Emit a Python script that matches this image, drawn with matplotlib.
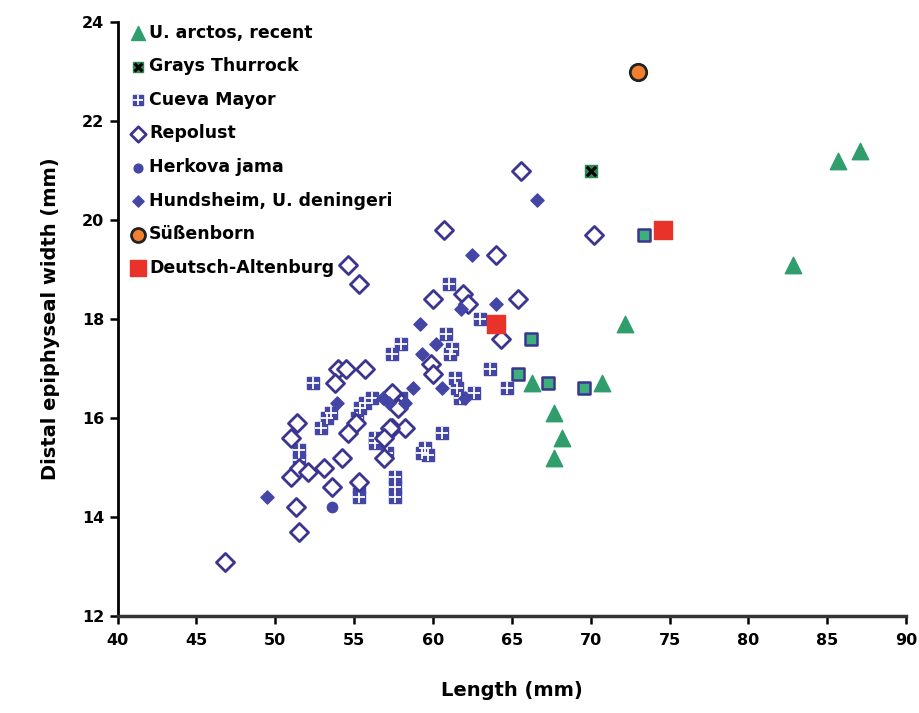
import numpy as np
import matplotlib.pyplot as plt

plt.rcParams['font.family'] = ['DejaVu Sans']
plt.rcParams['font.weight'] = 'bold'

# U. arctos, recent
arctos_x = [87.1, 85.7, 82.8, 72.2, 70.7, 66.3, 67.7, 68.2, 67.7]
arctos_y = [21.4, 21.2, 19.1, 17.9, 16.7, 16.7, 16.1, 15.6, 15.2]

# green-filled squares (unlabelled)
green_sq_x = [66.2, 65.4, 67.3, 69.6, 73.4]
green_sq_y = [17.6, 16.9, 16.7, 16.6, 19.7]

grays_x = [70.0]
grays_y = [21.0]

cueva_x = [61.0, 63.0, 60.8, 58.0, 57.4, 61.1, 61.2, 63.6, 61.4, 61.5, 64.7, 62.6,
           60.6, 59.7, 59.3, 57.1, 56.3, 56.3, 56.1, 55.4, 55.2, 55.7, 52.4, 53.5,
           53.3, 52.9, 51.5, 51.5, 55.3, 55.3, 57.6, 57.6, 57.6, 58.0, 61.7, 59.5]
cueva_y = [18.7, 18.0, 17.7, 17.5, 17.3, 17.3, 17.4, 17.0, 16.8, 16.6, 16.6, 16.5,
           15.7, 15.25, 15.3, 15.3, 15.6, 15.5, 16.4, 16.2, 16.0, 16.3, 16.7, 16.1,
           16.0, 15.8, 15.35, 15.15, 14.4, 14.6, 14.8, 14.4, 14.6, 16.4, 16.4, 15.4]

repolust_x = [46.8, 51.5, 51.3, 51.0, 51.5, 52.1, 51.0, 51.4, 53.1, 53.6, 54.2,
              55.3, 56.9, 54.6, 55.3, 60.7, 64.0, 60.0, 61.9, 62.2, 65.4, 64.3,
              65.6, 70.2, 55.7, 59.9, 60.0, 57.4, 58.0, 57.4, 58.2, 54.0, 54.5,
              53.8, 57.8, 57.3, 55.1, 54.6, 56.9]
repolust_y = [13.1, 13.7, 14.2, 14.8, 15.0, 14.9, 15.6, 15.9, 15.0, 14.6, 15.2,
              14.7, 15.2, 19.1, 18.7, 19.8, 19.3, 18.4, 18.5, 18.3, 18.4, 17.6,
              21.0, 19.7, 17.0, 17.1, 16.9, 16.5, 16.3, 15.8, 15.8, 17.0, 17.0,
              16.7, 16.2, 15.8, 15.9, 15.7, 15.6]

herkova_x = [53.6]
herkova_y = [14.2]

hund_x = [49.5, 53.9, 56.8, 57.2, 58.7, 59.3, 59.2, 60.2, 60.6, 62.0, 61.8, 64.0,
          62.5, 66.6, 58.2]
hund_y = [14.4, 16.3, 16.4, 16.3, 16.6, 17.3, 17.9, 17.5, 16.6, 16.4, 18.2, 18.3,
          19.3, 20.4, 16.3]

sussen_x = [73.0]
sussen_y = [23.0]

deutsch_x = [74.6, 64.0]
deutsch_y = [19.8, 17.9]

navy = '#3b3591'
blue = '#4446a6'
green = '#2f9e6c'

fig, ax = plt.subplots(figsize=(9.19, 7.13), dpi=100)
fig.subplots_adjust(left=0.128, right=0.986, top=0.969, bottom=0.136)

h_arctos = ax.scatter(arctos_x, arctos_y, marker='^', s=140, color=green, zorder=3)
h_grays = ax.scatter(grays_x, grays_y, marker='s', s=80, color='#2e8a52', zorder=3)
h_grays_x = ax.scatter(grays_x, grays_y, marker='x', s=45, color='black',
                       linewidths=2.2, zorder=4)
h_cueva = ax.scatter(cueva_x, cueva_y, marker='s', s=78, color=blue, zorder=2)
h_cueva_x = ax.scatter(cueva_x, cueva_y, marker='+', s=78, color='white',
                       linewidths=1.3, zorder=2)
h_rep = ax.scatter(repolust_x, repolust_y, marker='D', s=85, facecolors='white',
                   edgecolors=navy, linewidths=2, zorder=3)
h_herk = ax.scatter(herkova_x, herkova_y, marker='o', s=55, color=blue, zorder=3)
h_hund = ax.scatter(hund_x, hund_y, marker='D', s=45, color=blue, zorder=3)
h_suss = ax.scatter(sussen_x, sussen_y, marker='o', s=140, color='#f08030',
                    edgecolors='#222222', linewidths=2, zorder=3)
h_deut = ax.scatter(deutsch_x, deutsch_y, marker='s', s=175, color='#e8322a', zorder=4)
ax.scatter(green_sq_x, green_sq_y, marker='s', s=80, color='#3daf7a',
           edgecolors=navy, linewidths=1.8, zorder=3)

ax.set_xlim(40, 90)
ax.set_ylim(12, 24)
ax.set_xticks(np.arange(40, 91, 5))
ax.set_yticks(np.arange(12, 25, 2))
ax.spines['top'].set_visible(False)
ax.spines['right'].set_visible(False)
ax.spines['left'].set_linewidth(2)
ax.spines['bottom'].set_linewidth(2.5)
ax.spines['bottom'].set_color('#333333')
ax.tick_params(axis='both', direction='out', length=6, width=1.8, labelsize=11.5)
ax.tick_params(axis='x', pad=6)

ax.set_xlabel('Length (mm)', fontsize=14, fontweight='bold', labelpad=24)
ax.set_ylabel('Distal epiphyseal width (mm)', fontsize=14, fontweight='bold',
              labelpad=16)

handles = [h_arctos, (h_grays, h_grays_x), (h_cueva, h_cueva_x), h_rep, h_herk,
           h_hund, h_suss, h_deut]
labels = ['U. arctos, recent', 'Grays Thurrock', 'Cueva Mayor', 'Repolust',
          'Herkova jama', 'Hundsheim, U. deningeri', 'Süßenborn', 'Deutsch-Altenburg']
ax.legend(handles, labels, loc='upper left', frameon=False, fontsize=12.5,
          handletextpad=0.0, labelspacing=0.9, borderaxespad=0.2,
          handlelength=1.2, markerscale=0.85, bbox_to_anchor=(0.0, 1.015))

fig.savefig('out.png', dpi=100)
